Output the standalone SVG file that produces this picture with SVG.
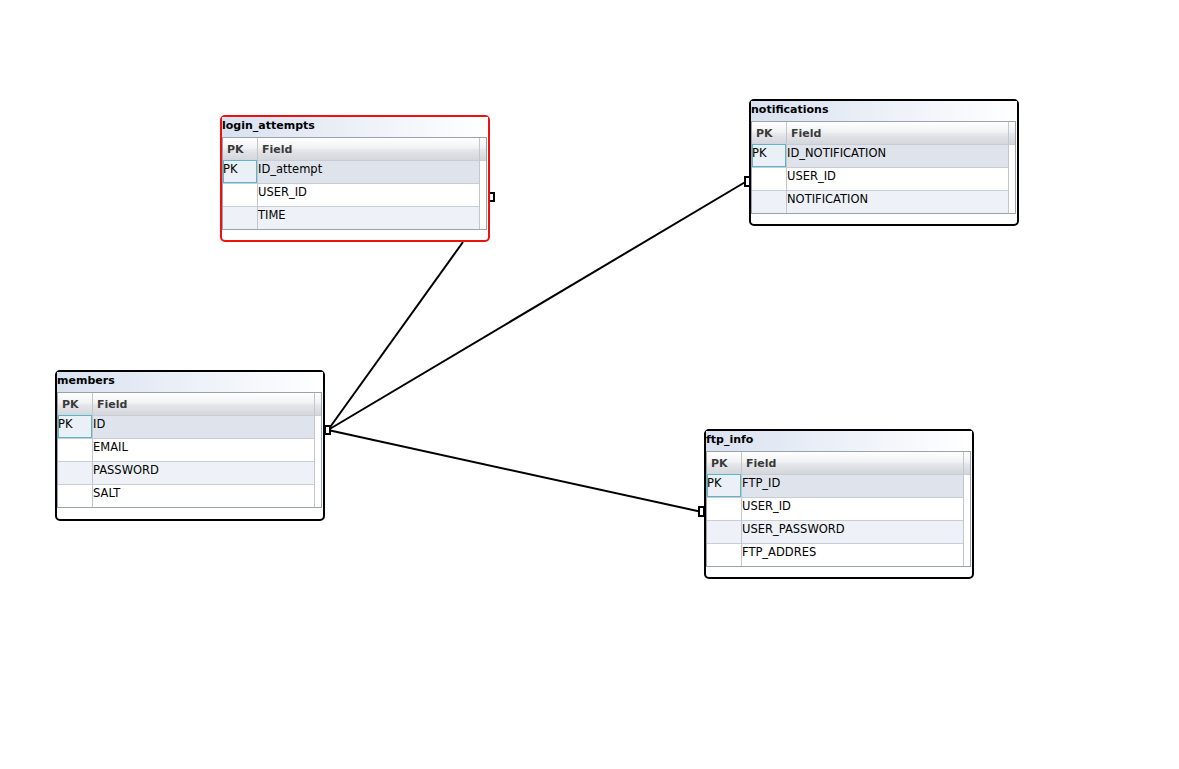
<svg xmlns="http://www.w3.org/2000/svg" width="1179" height="769" viewBox="0 0 1179 769">
  <defs>
    <linearGradient id="titleGrad" x1="0" y1="0" x2="1" y2="0">
      <stop offset="0" stop-color="#d9e1f0"/>
      <stop offset="0.55" stop-color="#eef2f9"/>
      <stop offset="1" stop-color="#ffffff"/>
    </linearGradient>
    <linearGradient id="headGrad" x1="0" y1="0" x2="0" y2="1">
      <stop offset="0" stop-color="#ffffff"/>
      <stop offset="0.45" stop-color="#f1f2f4"/>
      <stop offset="0.55" stop-color="#e4e6ea"/>
      <stop offset="1" stop-color="#d3d6db"/>
    </linearGradient>
    <style>
      .frame { fill: #ffffff; stroke: #000000; stroke-width: 2; }
      .frame.sel { stroke: #ee1111; }
      .title { font-family: "DejaVu Sans", Verdana, sans-serif; font-size: 11px; font-weight: bold; fill: #000000; }
      .head { font-family: "DejaVu Sans", Verdana, sans-serif; font-size: 11px; font-weight: bold; fill: #3a3a3a; }
      .cell { font-family: "DejaVu Sans", Verdana, sans-serif; font-size: 11.5px; fill: #000000; }
      .grid { fill: #ffffff; stroke: #9aa2ad; stroke-width: 1; }
      .rowpk { fill: #dfe4ec; }
      .rowalt { fill: #eef2f8; }
      .sep { stroke: #c9cdd3; stroke-width: 1; }
      .vsep { stroke: #c3c7cd; stroke-width: 1; }
      .pkcell { fill: #eaf0f5; stroke: #5cb6c9; stroke-width: 1; }
      .link { stroke: #000000; stroke-width: 2; fill: none; }
      .end { fill: #ffffff; stroke: #000000; stroke-width: 2; }
    </style>
  </defs>

  <rect width="1179" height="769" fill="#ffffff"/>

  <!-- relationships -->
  <g id="connectors">
    <line class="link" x1="328" y1="430" x2="463" y2="242"/>
    <line class="link" x1="328" y1="430" x2="747" y2="181"/>
    <line class="link" x1="328" y1="430" x2="702" y2="512"/>
    <rect class="end" x="325" y="426" width="5" height="8"/>
    <rect class="end" x="745" y="177" width="5" height="9"/>
    <rect class="end" x="699" y="507" width="5" height="9"/>
    <rect class="end" x="489" y="193" width="5" height="8"/>
  </g>

  <!-- login_attempts (selected) -->
  <g id="login_attempts" transform="translate(221,116)">
    <rect class="frame sel" x="0" y="0" width="268" height="125" rx="4"/>
    <rect x="1" y="1" width="266" height="20" fill="url(#titleGrad)"/>
    <text class="title" x="1" y="13">login_attempts</text>
    <rect class="grid" x="1.5" y="21.5" width="264" height="92"/>
    <rect x="2" y="22" width="263" height="22" fill="url(#headGrad)"/>
    <rect class="rowpk" x="2" y="44" width="256" height="23"/>
    <rect class="rowalt" x="2" y="90" width="256" height="23"/>
    <line class="sep" x1="2" y1="44.5" x2="265" y2="44.5"/>
    <line class="sep" x1="2" y1="67.5" x2="258" y2="67.5"/>
    <line class="sep" x1="2" y1="90.5" x2="258" y2="90.5"/>
    <line class="vsep" x1="36.5" y1="22" x2="36.5" y2="113"/>
    <line class="vsep" x1="258.5" y1="22" x2="258.5" y2="113"/>
    <rect class="pkcell" x="2.5" y="44.5" width="33" height="22"/>
    <text class="head" x="6" y="37">PK</text>
    <text class="head" x="41" y="37">Field</text>
    <text class="cell" x="2" y="57">PK</text>
    <text class="cell" x="37" y="57">ID_attempt</text>
    <text class="cell" x="37" y="80">USER_ID</text>
    <text class="cell" x="37" y="103">TIME</text>
  </g>

  <!-- members -->
  <g id="members" transform="translate(56,371)">
    <rect class="frame" x="0" y="0" width="268" height="149" rx="4"/>
    <rect x="1" y="1" width="266" height="20" fill="url(#titleGrad)"/>
    <text class="title" x="1" y="13">members</text>
    <rect class="grid" x="1.5" y="21.5" width="264" height="115"/>
    <rect x="2" y="22" width="263" height="22" fill="url(#headGrad)"/>
    <rect class="rowpk" x="2" y="44" width="256" height="23"/>
    <rect class="rowalt" x="2" y="90" width="256" height="23"/>
    <line class="sep" x1="2" y1="44.5" x2="265" y2="44.5"/>
    <line class="sep" x1="2" y1="67.5" x2="258" y2="67.5"/>
    <line class="sep" x1="2" y1="90.5" x2="258" y2="90.5"/>
    <line class="sep" x1="2" y1="113.5" x2="258" y2="113.5"/>
    <line class="vsep" x1="36.5" y1="22" x2="36.5" y2="136"/>
    <line class="vsep" x1="258.5" y1="22" x2="258.5" y2="136"/>
    <rect class="pkcell" x="2.5" y="44.5" width="33" height="22"/>
    <text class="head" x="6" y="37">PK</text>
    <text class="head" x="41" y="37">Field</text>
    <text class="cell" x="2" y="57">PK</text>
    <text class="cell" x="37" y="57">ID</text>
    <text class="cell" x="37" y="80">EMAIL</text>
    <text class="cell" x="37" y="103">PASSWORD</text>
    <text class="cell" x="37" y="126">SALT</text>
  </g>

  <!-- notifications -->
  <g id="notifications" transform="translate(750,100)">
    <rect class="frame" x="0" y="0" width="268" height="125" rx="4"/>
    <rect x="1" y="1" width="266" height="20" fill="url(#titleGrad)"/>
    <text class="title" x="1" y="13">notifications</text>
    <rect class="grid" x="1.5" y="21.5" width="264" height="92"/>
    <rect x="2" y="22" width="263" height="22" fill="url(#headGrad)"/>
    <rect class="rowpk" x="2" y="44" width="256" height="23"/>
    <rect class="rowalt" x="2" y="90" width="256" height="23"/>
    <line class="sep" x1="2" y1="44.5" x2="265" y2="44.5"/>
    <line class="sep" x1="2" y1="67.5" x2="258" y2="67.5"/>
    <line class="sep" x1="2" y1="90.5" x2="258" y2="90.5"/>
    <line class="vsep" x1="36.5" y1="22" x2="36.5" y2="113"/>
    <line class="vsep" x1="258.5" y1="22" x2="258.5" y2="113"/>
    <rect class="pkcell" x="2.5" y="44.5" width="33" height="22"/>
    <text class="head" x="6" y="37">PK</text>
    <text class="head" x="41" y="37">Field</text>
    <text class="cell" x="2" y="57">PK</text>
    <text class="cell" x="37" y="57">ID_NOTIFICATION</text>
    <text class="cell" x="37" y="80">USER_ID</text>
    <text class="cell" x="37" y="103">NOTIFICATION</text>
  </g>

  <!-- ftp_info -->
  <g id="ftp_info" transform="translate(705,430)">
    <rect class="frame" x="0" y="0" width="268" height="148" rx="4"/>
    <rect x="1" y="1" width="266" height="20" fill="url(#titleGrad)"/>
    <text class="title" x="1" y="13">ftp_info</text>
    <rect class="grid" x="1.5" y="21.5" width="264" height="115"/>
    <rect x="2" y="22" width="263" height="22" fill="url(#headGrad)"/>
    <rect class="rowpk" x="2" y="44" width="256" height="23"/>
    <rect class="rowalt" x="2" y="90" width="256" height="23"/>
    <line class="sep" x1="2" y1="44.5" x2="265" y2="44.5"/>
    <line class="sep" x1="2" y1="67.5" x2="258" y2="67.5"/>
    <line class="sep" x1="2" y1="90.5" x2="258" y2="90.5"/>
    <line class="sep" x1="2" y1="113.5" x2="258" y2="113.5"/>
    <line class="vsep" x1="36.5" y1="22" x2="36.5" y2="136"/>
    <line class="vsep" x1="258.5" y1="22" x2="258.5" y2="136"/>
    <rect class="pkcell" x="2.5" y="44.5" width="33" height="22"/>
    <text class="head" x="6" y="37">PK</text>
    <text class="head" x="41" y="37">Field</text>
    <text class="cell" x="2" y="57">PK</text>
    <text class="cell" x="37" y="57">FTP_ID</text>
    <text class="cell" x="37" y="80">USER_ID</text>
    <text class="cell" x="37" y="103">USER_PASSWORD</text>
    <text class="cell" x="37" y="126">FTP_ADDRES</text>
  </g>
</svg>
